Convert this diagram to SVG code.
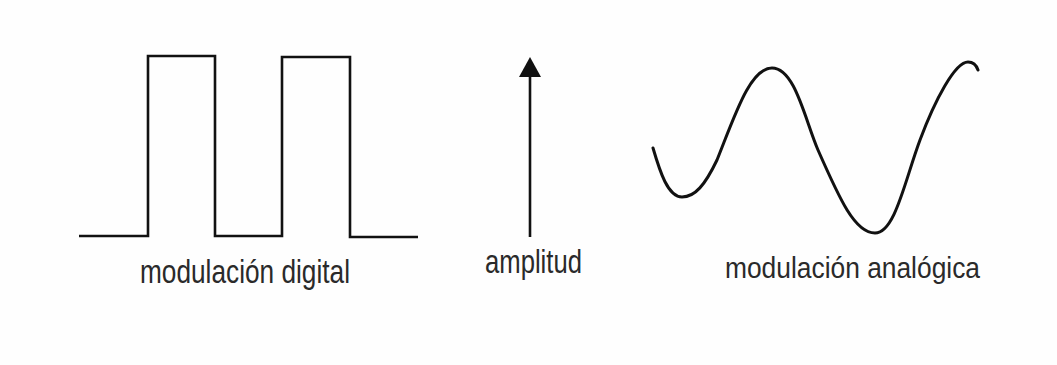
<svg xmlns="http://www.w3.org/2000/svg" width="1057" height="365" viewBox="0 0 1057 365">
<style>
.ln{fill:none;stroke:#111;stroke-width:2.6;stroke-linejoin:miter;stroke-linecap:butt}
.wv{fill:none;stroke:#111;stroke-width:3;stroke-linecap:round;stroke-linejoin:round}
.lbl{font-family:"Liberation Sans Narrow","Liberation Sans",Arial,sans-serif;fill:#2a2a2a}
</style>
<defs>
<marker id="ah" markerWidth="20" markerHeight="24" refX="7" refY="12" orient="auto" markerUnits="userSpaceOnUse" viewBox="0 0 20 24">
<path d="M20,12 L0,1 L0,23 Z" fill="#111"/>
</marker>
</defs>
<rect width="1057" height="365" fill="#fefefe"/>
<g id="digital">
<path class="ln" d="M79,236 H148 V56 H215 V236 H282 V57 H350 V237 H418"/>
<text class="lbl" x="140" y="283" font-size="33" textLength="210" lengthAdjust="spacingAndGlyphs">modulación digital</text>
</g>
<g id="amplitud">
<text class="lbl" x="485" y="273" font-size="33" textLength="97" lengthAdjust="spacingAndGlyphs">amplitud</text>
</g>
<g id="analogica">
<path class="wv" d="M653,148 C660,172 668,197 682,197 C695,197 705,185 717,160 C735,115 750,68 772,68 C795,68 805,120 818,150 C840,200 855,233 875,233 C895,233 905,180 920,140 C935,100 955,62 968,62 C974,62 977,67 978,70"/>
<text class="lbl" x="725" y="278" font-size="30" textLength="255" lengthAdjust="spacingAndGlyphs">modulación analógica</text>
</g>
<g id="connectors">
<line x1="530" y1="237" x2="530" y2="70" stroke="#111" stroke-width="2.6" marker-end="url(#ah)"/>
</g>
</svg>
